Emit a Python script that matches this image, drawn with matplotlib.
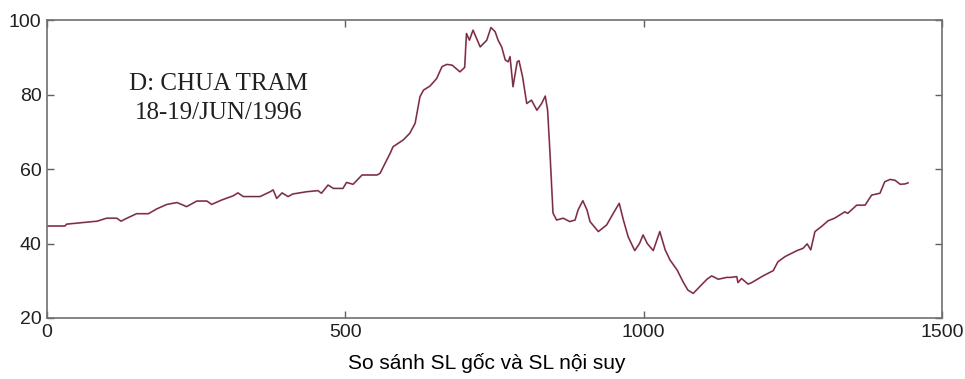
import matplotlib
matplotlib.use("Agg")
import matplotlib.pyplot as plt
import numpy as np

# Chua Tram water level, original vs interpolated series
sample_idx = [
    0, 30, 33, 84, 100, 117, 124, 134, 150, 170, 184, 201, 218, 234, 251, 268, 276, 293,
    312, 320, 329, 357, 374, 379, 385, 394, 404, 412, 435, 454, 460, 471, 480, 496, 502,
    513, 528, 553, 558, 575, 580, 597, 608, 617, 625, 631, 642, 653, 662, 670, 679, 692,
    700, 703, 708, 714, 726, 737, 744, 751, 756, 762, 768, 773, 776, 781, 788, 791, 797,
    804, 812, 821, 829, 835, 839, 843, 846, 848, 854, 865, 876, 885, 890, 898, 905, 910,
    924, 938, 949, 959, 966, 974, 985, 993, 999, 1006, 1016, 1027, 1036, 1044, 1056,
    1066, 1074, 1083, 1094, 1106, 1114, 1125, 1139, 1145, 1156, 1158, 1164, 1175, 1181,
    1200, 1217, 1225, 1237, 1257, 1267, 1274, 1280, 1287, 1299, 1309, 1320, 1337, 1342,
    1357, 1371, 1382, 1396, 1404, 1413, 1421, 1430, 1438, 1443,
]
water_level = [
    44.7, 44.7, 45.2, 46.0, 46.8, 46.8, 46.0, 46.8, 48.0, 48.0, 49.3, 50.5, 51.0, 49.9,
    51.4, 51.4, 50.5, 51.7, 52.8, 53.6, 52.6, 52.6, 53.9, 54.4, 52.1, 53.6, 52.6, 53.3,
    53.9, 54.2, 53.5, 55.7, 54.8, 54.8, 56.4, 55.9, 58.4, 58.4, 58.8, 64.2, 66.0, 67.8,
    69.6, 72.3, 79.4, 81.2, 82.3, 84.3, 87.5, 88.1, 87.9, 86.1, 87.3, 96.4, 94.6, 97.3,
    92.8, 94.6, 98.0, 96.9, 94.6, 92.8, 89.3, 88.8, 90.2, 82.1, 88.8, 89.1, 84.8, 77.6,
    78.5, 75.8, 77.6, 79.6, 75.8, 64.2, 54.4, 48.2, 46.3, 46.8, 45.9, 46.3, 49.0, 51.5,
    49.0, 45.9, 43.2, 45.0, 48.1, 50.8, 46.3, 41.8, 38.1, 40.0, 42.3, 40.0, 38.1, 43.2,
    38.3, 35.6, 32.9, 29.7, 27.5, 26.6, 28.4, 30.4, 31.3, 30.4, 30.9, 30.9, 31.1, 29.5,
    30.6, 29.1, 29.5, 31.3, 32.7, 35.1, 36.5, 38.1, 38.7, 39.9, 38.3, 43.2, 44.7, 46.1,
    46.8, 48.5, 48.1, 50.3, 50.3, 53.0, 53.5, 56.6, 57.2, 57.0, 55.9, 56.0, 56.3,
]

x_ticks = [0, 500, 1000, 1500]
y_ticks = [20, 40, 60, 80, 100]
station_label = "D: CHUA TRAM\n18-19/JUN/1996"
caption = "So sánh SL gốc và SL nội suy"

fig = plt.figure(figsize=(9.65, 3.79), dpi=100)
ax = fig.add_axes([0.0487, 0.161, 0.9275, 0.786])

ax.plot(sample_idx, water_level, color="#c0607a", lw=1.3)
ax.plot(sample_idx, water_level, color="#3a1a24", lw=0.6, alpha=0.8)

ax.set_xlim(0, 1500)
ax.set_ylim(20, 100)
ax.set_xticks(x_ticks)
ax.set_yticks(y_ticks)
ax.tick_params(direction="in", length=5, width=1, color="#606060",
               top=True, right=True, labelsize=14, pad=4)
for lab in ax.get_xticklabels() + ax.get_yticklabels():
    lab.set_fontfamily("Liberation Sans")
    lab.set_color("#202020")
for sp in ax.spines.values():
    sp.set_color("#707070")
    sp.set_linewidth(1.2)

ax.text(288, 79.0, station_label, ha="center", va="center",
        fontsize=18, family="Liberation Serif", color="#202020", linespacing=1.4)

fig.text(0.504, 0.042, caption, ha="center", va="center",
         fontsize=15, family="Liberation Sans", color="#000000")

fig.savefig("out.png", dpi=100)
